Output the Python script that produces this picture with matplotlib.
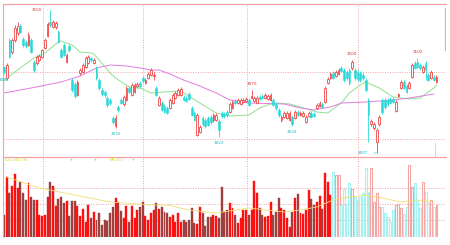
import matplotlib
matplotlib.use('agg')
import matplotlib.pyplot as plt
import numpy as np

# daily candles, index points
opens = [3093, 3082, 3120, 3108, 3120, 3127, 3134, 3121, 3118, 3115,
         3120, 3098, 3097, 3100, 3103, 3112, 3124, 3138, 3133, 3133,
         3128, 3110, 3115, 3098, 3114, 3080, 3076, 3065, 3087, 3088,
         3093, 3097, 3102, 3097, 3092, 3080, 3070, 3068, 3062, 3060,
         3042, 3034, 3053, 3060, 3056, 3060, 3072, 3065, 3068, 3074,
         3077, 3082, 3077, 3082, 3085, 3084, 3072, 3055, 3057, 3054,
         3052, 3052, 3057, 3062, 3065, 3065, 3063, 3062, 3066, 3052,
         3047, 3025, 3028, 3042, 3040, 3042, 3043, 3040, 3040, 3039,
         3047, 3046, 3048, 3048, 3052, 3059, 3057, 3056, 3058, 3059,
         3060, 3062, 3059, 3057, 3063, 3064, 3062, 3061, 3060, 3060,
         3056, 3050, 3040, 3043, 3042, 3040, 3043, 3042, 3048, 3045,
         3044, 3038, 3044, 3047, 3046, 3052, 3054, 3056, 3058, 3077,
         3082, 3087, 3084, 3086, 3092, 3090, 3088, 3090, 3092, 3090,
         3088, 3087, 3085, 3080, 3060, 3036, 3032, 3018, 3036, 3060,
         3060, 3060, 3061, 3061, 3049, 3064, 3072, 3078, 3074, 3072,
         3083, 3097, 3098, 3095, 3088, 3097, 3085, 3082, 3083, 3078]
closes = [3088, 3095, 3103, 3120, 3132, 3134, 3128, 3115, 3114, 3125,
          3108, 3090, 3103, 3104, 3110, 3120, 3136, 3135, 3138, 3137,
          3118, 3103, 3105, 3105, 3110, 3070, 3064, 3078, 3090, 3095,
          3102, 3103, 3100, 3100, 3082, 3072, 3066, 3065, 3055, 3057,
          3038, 3042, 3050, 3057, 3063, 3072, 3068, 3075, 3075, 3076,
          3074, 3079, 3080, 3086, 3090, 3085, 3065, 3062, 3050, 3048,
          3047, 3060, 3065, 3067, 3070, 3071, 3060, 3059, 3061, 3045,
          3040, 3045, 3033, 3036, 3034, 3035, 3038, 3045, 3045, 3030,
          3044, 3044, 3045, 3056, 3058, 3057, 3060, 3060, 3060, 3061,
          3055, 3064, 3062, 3062, 3061, 3062, 3065, 3064, 3065, 3055,
          3052, 3045, 3043, 3047, 3047, 3047, 3036, 3048, 3045, 3047,
          3047, 3043, 3047, 3043, 3044, 3055, 3057, 3053, 3072, 3081,
          3086, 3082, 3088, 3090, 3089, 3080, 3082, 3077, 3098, 3082,
          3081, 3080, 3082, 3070, 3045, 3039, 3036, 3030, 3043, 3048,
          3053, 3056, 3057, 3058, 3058, 3066, 3078, 3072, 3068, 3077,
          3095, 3092, 3093, 3092, 3093, 3090, 3080, 3088, 3080, 3083]
highs = [3094, 3097, 3122, 3122, 3135, 3138, 3136, 3123, 3120, 3128,
         3122, 3100, 3105, 3106, 3111, 3122, 3138, 3150, 3140, 3139,
         3130, 3112, 3117, 3107, 3116, 3082, 3078, 3080, 3092, 3097,
         3104, 3105, 3103, 3102, 3094, 3082, 3072, 3070, 3064, 3062,
         3044, 3045, 3055, 3062, 3065, 3074, 3074, 3077, 3077, 3078,
         3079, 3084, 3082, 3088, 3092, 3088, 3074, 3064, 3059, 3056,
         3054, 3062, 3067, 3069, 3072, 3073, 3065, 3064, 3068, 3054,
         3049, 3047, 3035, 3044, 3042, 3044, 3045, 3047, 3047, 3041,
         3049, 3048, 3050, 3058, 3060, 3061, 3062, 3062, 3062, 3063,
         3062, 3070, 3064, 3064, 3065, 3066, 3067, 3066, 3067, 3062,
         3058, 3052, 3045, 3049, 3049, 3049, 3045, 3050, 3050, 3049,
         3049, 3045, 3049, 3049, 3048, 3057, 3059, 3058, 3074, 3083,
         3088, 3089, 3090, 3092, 3094, 3092, 3090, 3092, 3100, 3092,
         3090, 3089, 3087, 3082, 3062, 3041, 3038, 3032, 3045, 3062,
         3062, 3062, 3063, 3063, 3060, 3067, 3080, 3080, 3076, 3079,
         3097, 3099, 3102, 3097, 3095, 3099, 3087, 3090, 3085, 3085]
lows = [3086, 3080, 3102, 3106, 3118, 3125, 3127, 3113, 3112, 3114,
        3107, 3088, 3095, 3099, 3102, 3111, 3123, 3133, 3132, 3131,
        3117, 3102, 3104, 3097, 3108, 3068, 3062, 3064, 3085, 3087,
        3092, 3096, 3098, 3096, 3080, 3070, 3064, 3063, 3053, 3055,
        3036, 3032, 3048, 3056, 3054, 3059, 3067, 3064, 3067, 3072,
        3072, 3077, 3076, 3081, 3084, 3080, 3064, 3054, 3049, 3047,
        3046, 3051, 3056, 3061, 3064, 3064, 3059, 3058, 3060, 3044,
        3039, 3024, 3027, 3034, 3032, 3034, 3036, 3038, 3039, 3023,
        3042, 3042, 3043, 3047, 3051, 3056, 3056, 3055, 3057, 3058,
        3054, 3061, 3058, 3056, 3060, 3061, 3061, 3060, 3059, 3054,
        3050, 3043, 3038, 3042, 3041, 3039, 3034, 3041, 3044, 3044,
        3043, 3037, 3043, 3042, 3043, 3051, 3053, 3052, 3057, 3076,
        3081, 3081, 3083, 3085, 3088, 3078, 3080, 3075, 3090, 3080,
        3079, 3078, 3080, 3068, 3018, 3034, 3030, 3007, 3034, 3046,
        3051, 3054, 3056, 3057, 3048, 3063, 3071, 3071, 3067, 3071,
        3082, 3091, 3092, 3090, 3087, 3080, 3079, 3081, 3079, 3077]
volume = [22, 60, 44, 51, 63, 49, 55, 44, 37, 54, 40, 37, 37, 22, 21, 22,
          40, 55, 51, 31, 38, 40, 34, 36, 21, 36, 36, 31, 21, 28, 15, 32,
          19, 25, 17, 24, 12, 17, 16, 24, 30, 39, 35, 26, 19, 31, 15, 31,
          19, 27, 30, 35, 21, 17, 24, 27,
          34, 28, 30, 25, 24, 20, 22, 15, 24, 15, 17, 15, 17, 29, 14, 13,
          30, 24, 11, 20, 20, 22, 21, 19, 50, 25, 27, 34, 29, 22, 14, 19,
          27, 27, 22, 27, 56, 44, 29, 22, 20, 21, 35, 22, 25, 39, 29, 27,
          19, 10, 25, 39, 43, 24,
          23, 27, 47, 38, 32, 35, 41, 28, 64, 55, 42,
          65, 62, 62, 32, 48, 33, 54, 48, 40, 37, 40, 44, 69, 45, 69, 35,
          44, 30, 30, 24, 20, 15, 27, 32, 33, 29, 23, 30, 72, 50, 54, 36,
          29, 55, 45, 34, 37, 30, 32]

# moving averages read at sample days
ma_green_day = [0, 1, 11, 15, 20, 21, 25, 28, 32, 33, 35, 39, 41, 46, 50, 54,
                59, 65, 68, 72, 78, 83, 90, 94, 98, 101, 105, 109, 115, 119,
                124, 127, 131, 133, 138, 143, 146, 149, 153, 158, 159]
ma_green = [3079, 3082, 3102, 3107, 3118, 3119, 3115, 3108, 3107, 3106, 3100,
            3087, 3082, 3073, 3072, 3067, 3068, 3069, 3064, 3057, 3047, 3044,
            3045, 3052, 3056, 3057, 3056, 3053, 3048, 3047, 3057, 3067, 3075,
            3078, 3072, 3063, 3062, 3061, 3062, 3072, 3075]
ma_purple_day = [0, 10, 21, 28, 34, 39, 45, 50, 54, 57, 61, 66, 72, 78, 83,
                 90, 103, 109, 114, 120, 124, 133, 143, 149, 158]
ma_purple = [3067, 3072, 3078, 3084, 3092, 3095, 3094, 3092, 3090, 3090, 3086,
             3080, 3074, 3067, 3060, 3057, 3056, 3052, 3050, 3053, 3057, 3058,
             3060, 3062, 3066]
vol_ma_day = [1, 13, 39, 54, 60, 68, 78, 90, 103, 109, 115, 121, 127, 133,
              139, 146, 152, 158]
vol_ma = [60, 49, 35, 32, 32, 27, 24, 29, 25, 27, 30, 37, 40, 42, 39, 35, 37, 35]

month_breaks = [14.5, 51, 89.5, 130]
price_levels = [3088, 3021]
vol_levels = [17, 33, 49]
marked = [(0, 'low'), (17, 'high'), (41, 'low'), (79, 'low'), (91, 'high'),
          (106, 'low'), (128, 'high'), (137, 'low'), (152, 'high')]
faded_from = 121  # volume bars drawn hollow from this day on

UP = '#f04848'
DOWN = '#2ad8d8'
PINK = '#f3a3a3'

n = len(closes)
x = np.arange(n)
o = np.array(opens)
c = np.array(closes)
up = c >= o

fig = plt.figure(figsize=(4.5, 2.45), dpi=100)
ax = fig.add_axes([3 / 450, 1 - 157 / 245, 443 / 450, 153 / 245])
axv = fig.add_axes([3 / 450, 1 - 237 / 245, 443 / 450, 80 / 245], sharex=ax)

# candles
wick_col = [UP if u else DOWN for u in up]
ax.vlines(x, lows, highs, colors=wick_col, linewidth=0.6, zorder=2)
body = np.maximum(np.abs(c - o), 0.6)
bottom = np.minimum(o, c)
ax.bar(x[up], body[up], bottom=bottom[up], width=0.66, facecolor='white',
       edgecolor=UP, linewidth=0.6, zorder=3)
ax.bar(x[~up], body[~up], bottom=bottom[~up], width=0.66, facecolor=DOWN,
       edgecolor=DOWN, linewidth=0.4, zorder=3)

ax.plot(ma_green_day, ma_green, color='#8fe08f', linewidth=0.7, zorder=1)
ax.plot(ma_purple_day, ma_purple, color='#e27ce2', linewidth=0.7, zorder=1)

for i, kind in marked:
    if kind == 'high':
        val, col, dy, va = highs[i], '#d83030', 3, 'bottom'
    else:
        val, col, dy, va = lows[i], '#20b8c8', -3, 'top'
    if i in (17, 137):
        ax.annotate(str(val), xy=(i, val), xytext=(-6, 0), textcoords='offset points',
                    ha='right', va='center', fontsize=3, color=col,
                    arrowprops=dict(arrowstyle='-', color=col, lw=0.4))
    else:
        ax.annotate(str(val), xy=(i, val), xytext=(0, dy), textcoords='offset points',
                    ha='center', va=va, fontsize=3, color=col)

for lv in price_levels:
    ax.axhline(lv, color=PINK, linestyle=(0, (1, 1.5)), linewidth=0.7, zorder=0)
for mb in month_breaks:
    ax.axvline(mb, color=PINK, linestyle=(0, (1, 1.5)), linewidth=0.7, zorder=0)
    axv.axvline(mb, color=PINK, linestyle=(0, (1, 1.5)), linewidth=0.7, zorder=0)
ax.axvline(162.1, ymin=0.7, ymax=0.975, color=PINK, linewidth=0.8)
ax.vlines(158.6, 3003, 3018, color='#f0e070', linewidth=0.7)

ax.set_xlim(-0.37, 162.5)
ax.set_ylim(3003, 3156)

# volume
vol = np.array(volume)
solid = x < faded_from
vcol = np.where(up, '#ff1010', '#a83a3a')
axv.bar(x[solid], vol[solid], width=0.72, color=vcol[solid],
        edgecolor=np.where(up[solid], '#ff1010', '#8c5050'), linewidth=0.3)
hcol = np.where(up, '#f2a6a6', '#a6f0f0')
axv.bar(x[~solid], vol[~solid], width=0.72, facecolor='none',
        edgecolor=hcol[~solid], linewidth=0.8)
axv.plot(vol_ma_day, vol_ma, color='#f0e070', linewidth=0.6)
for lv in vol_levels:
    axv.axhline(lv, color=PINK, linestyle=(0, (1, 1.5)), linewidth=0.7, zorder=0)
axv.set_ylim(0, 80)

axv.text(0.005, 0.985, 'VOL:2461.36', transform=axv.transAxes, fontsize=2.6,
         color='#d8d820', va='top')
axv.text(0.15, 0.985, '+', transform=axv.transAxes, fontsize=2.6, color='#40c040', va='top')
axv.text(0.205, 0.985, '+', transform=axv.transAxes, fontsize=2.6, color='#40c040', va='top')
axv.text(0.242, 0.985, 'MA5:2017', transform=axv.transAxes, fontsize=2.2,
         color='#d8d820', va='top')
axv.text(0.29, 0.985, '+', transform=axv.transAxes, fontsize=2.6, color='#40c040', va='top')

for a in (ax, axv):
    a.set_xticks([])
    a.set_yticks([])
    for s in a.spines.values():
        s.set_visible(False)
    a.spines['left'].set_visible(True)
    a.spines['left'].set_color(PINK)
    a.spines['left'].set_linewidth(0.8)
    a.spines['top'].set_visible(True)
    a.spines['top'].set_color(PINK)
    a.spines['top'].set_linewidth(0.9)

fig.savefig('out.png', dpi=100)
